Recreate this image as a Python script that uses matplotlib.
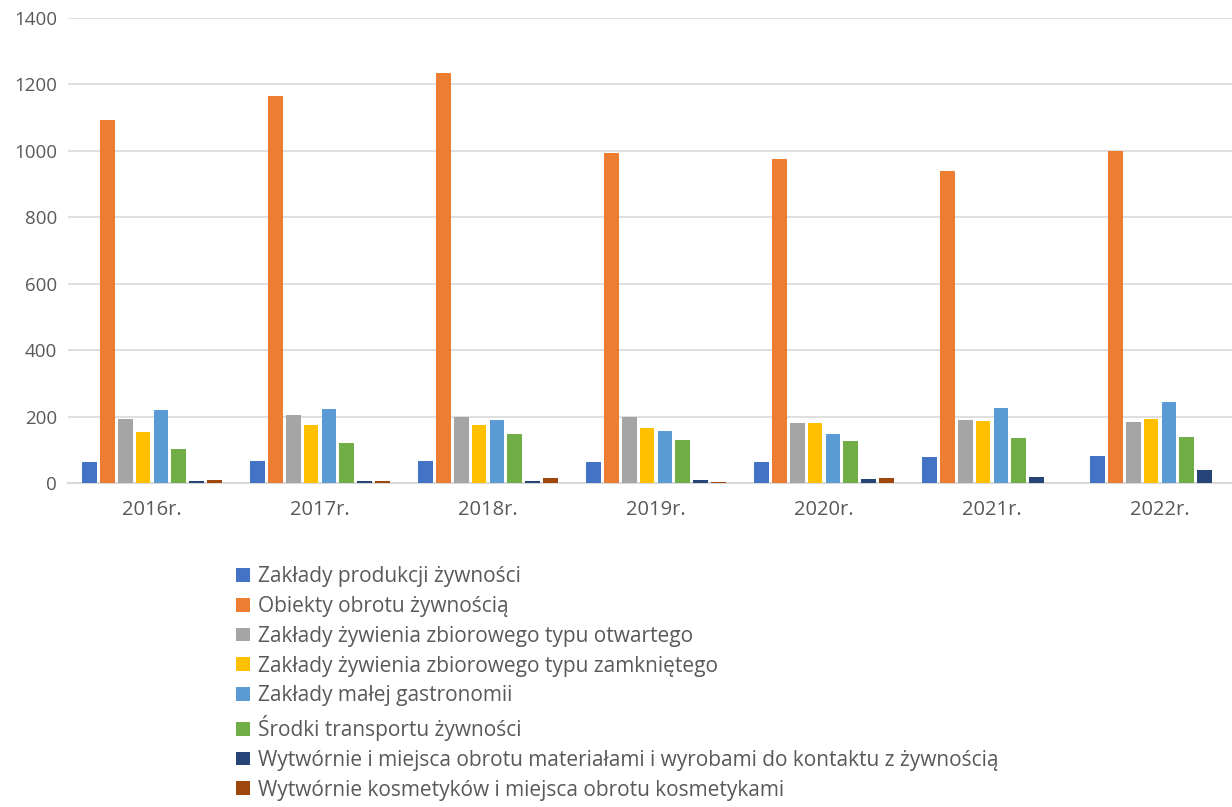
import numpy as np
import matplotlib.pyplot as plt

plt.rcParams['font.family'] = ['Open Sans', 'DejaVu Sans']

years = ['2016r.', '2017r.', '2018r.', '2019r.', '2020r.', '2021r.', '2022r.']

series = [
    'Zakłady produkcji żywności',
    'Obiekty obrotu żywnością',
    'Zakłady żywienia zbiorowego typu otwartego',
    'Zakłady żywienia zbiorowego typu zamkniętego',
    'Zakłady małej gastronomii',
    'Środki transportu żywności',
    'Wytwórnie i miejsca obrotu materiałami i wyrobami do kontaktu z żywnością',
    'Wytwórnie kosmetyków i miejsca obrotu kosmetykami',
]

produkcja = [62, 65, 65, 62, 62, 77, 80]
obrot = [1092, 1164, 1233, 993, 975, 939, 1001]
otwarte = [192, 204, 198, 198, 180, 189, 183]
zamkniete = [153, 174, 174, 165, 180, 186, 192]
gastronomia = [219, 222, 189, 156, 147, 225, 243]
transport = [101, 120, 147, 129, 126, 135, 138]
materialy = [5, 5, 5, 8, 11, 17, 38]
kosmetyki = [8, 5, 14, 2, 14, 1, 1]

values = [produkcja, obrot, otwarte, zamkniete, gastronomia, transport, materialy, kosmetyki]
colors = ['#4472C4', '#ED7D31', '#A5A5A5', '#FFC000', '#5B9BD5', '#70AD47', '#264478', '#9E480E']

fig = plt.figure(figsize=(12.32, 8.07), dpi=100)
ax = fig.add_axes([68 / 1232, 1 - 483 / 807, 1 - 68 / 1232, (483 - 18) / 807])

x = np.arange(len(years))
step = 0.107
width = 0.089
for i, (name, vals, c) in enumerate(zip(series, values, colors)):
    ax.bar(x + (i - 3.5) * step, vals, width, color=c, label=name, zorder=3)

ax.set_ylim(0, 1400)
ax.set_yticks(range(0, 1401, 200))
ax.set_xlim(-0.5, -0.5 + 1164 / 168)
ax.set_xticks(x)
ax.set_xticklabels(years)
ax.grid(axis='y', color='#d9d9d9', linewidth=1.2, zorder=0)
for s in ['top', 'right', 'left']:
    ax.spines[s].set_visible(False)
ax.spines['bottom'].set_color('#d9d9d9')
ax.spines['bottom'].set_linewidth(1.5)
ax.tick_params(axis='both', length=0, colors='#595959')
ax.tick_params(axis='x', pad=12, labelsize=14.5)
ax.tick_params(axis='y', pad=8, labelsize=13.5)

fig.legend(loc='upper left', bbox_to_anchor=(228 / 1232, 1 - 558 / 807), frameon=False,
           fontsize=15, labelcolor='#595959', handlelength=0.65, handleheight=0.65,
           handletextpad=0.4, labelspacing=0.42, borderaxespad=0)

fig.savefig('out.png', dpi=100)
